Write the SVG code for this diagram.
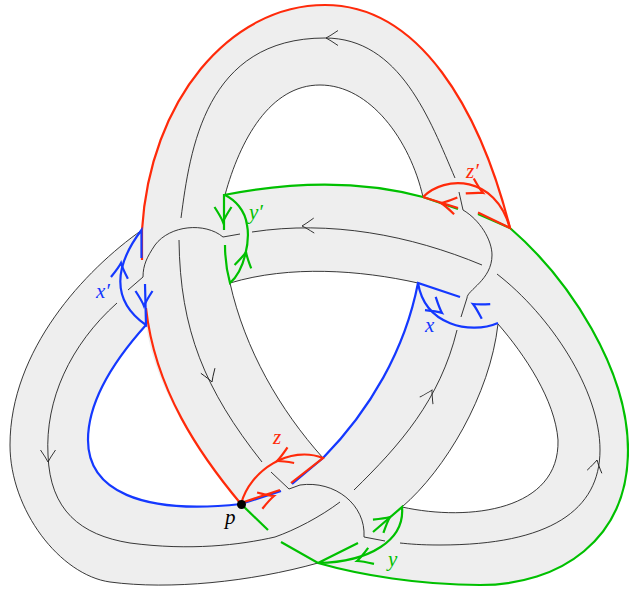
<svg xmlns="http://www.w3.org/2000/svg" width="629" height="592" viewBox="0 0 629 592">
<style>
.k{fill:none;stroke:#222;stroke-width:.9}
.r,.b,.g{fill:none;stroke-width:2.2}
.r{stroke:#ff2a0a}.b{stroke:#1438ff}.g{stroke:#00c000}
.t{font-family:"Liberation Serif",serif;font-style:italic;font-size:21px}
</style>
<defs>
<path id="h" d="M-12,-7.500Q-4,-2 0,0Q-4,2 -12,7.500"/>
<path id="c" d="M-15,-8.500Q-5,-2 0,0Q-5,2 -15,8.500"/>
</defs>
<path id="band" fill="#eeeeee" fill-rule="evenodd" d="M142,230C150,100 230,5 325,5C420,5 480,110 510,228C570,280 628,370 628,450C628,540 560,585 480,585C420,585 360,575 318,563C250,582 170,590 110,582C60,575 10,510 10,445C10,350 85,270 142,230Z
M225,195C240,140 270,85 320,85C370,85 410,140 423,197C360,180 290,182 225,195Z
M230,283C290,265 360,270 418,283C405,350 370,410 323,458C280,410 245,350 230,283Z
M498,324C490,395 445,470 402,507C470,522 560,510 558,440C555,400 525,355 498,324Z
M146,325C110,365 88,405 88,440C88,490 140,515 241,504C200,455 155,390 146,325Z"/>
<g id="midlines" class="k">
<path d="M181,218C190,150 205,38 325,38C400,38 430,120 455,178"/>
<path d="M459,192L463,210C480,220 492,240 492,255C492,280 467,290 467,298L461,317"/>
<path d="M457,330C440,400 400,445 354,490"/>
<path d="M252,232C330,220 410,235 482,265"/>
<path d="M497,274C550,315 600,390 600,450C600,510 550,545 440,545C420,545 410,544 400,543"/>
<path d="M385,541L364,537C366,505 335,480 300,485L289,489L271,472"/>
<path d="M262,462C205,390 180,330 179,240"/>
<path d="M240,234L223,237C205,222 170,225 155,245C147,257 143,265 143,277L128,290"/>
<path d="M117,303C70,345 45,400 48,455C50,510 80,535 130,543C190,551 240,545 275,537C295,530 320,517 340,502"/>
<path d="M318,563C250,582 170,590 110,582C60,575 10,510 10,445C10,350 85,270 142,230"/>
<path d="M225,195C240,140 270,85 320,85C370,85 410,140 423,197"/>
<path d="M230,283C290,265 360,270 418,283"/>
<path d="M323,458C280,410 245,350 230,283"/>
<path d="M498,324C490,395 445,470 402,507C470,522 560,510 558,440C555,400 525,355 498,324"/>
<use href="#h" transform="translate(326,38) rotate(180)"/>
<use href="#h" transform="translate(302,226) rotate(178)"/>
<use href="#h" transform="translate(212,382) rotate(70)"/>
<use href="#h" transform="translate(48,462) rotate(90)"/>
<use href="#h" transform="translate(432,390) rotate(-62)"/>
<use href="#h" transform="translate(597,460) rotate(-78)"/>
</g>
<g id="green" class="g">
<path d="M224,230V195C290,182 360,180 423,197L458,209"/>
<path d="M478,214L510,228C570,280 628,370 628,450C628,540 560,585 480,585C420,585 360,575 318,563L281,542"/>
<path d="M268,530L241,504"/>
<path d="M225,245C225,260 227,272 230,283C245,270 250,240 247,225C245,210 235,200 225,195"/>
<path d="M318,563L358,543M318,563C370,562 405,540 402,507L373,532"/>
<use href="#c" transform="translate(223,222) rotate(90)"/>
<use href="#c" transform="translate(246,252) rotate(-78)"/>
<use href="#c" transform="translate(390,517) rotate(-38)"/>
<use href="#c" transform="translate(357,561) rotate(160)"/>
</g>
<g id="blue" class="b">
<path d="M146,325C110,365 88,405 88,440C88,490 140,515 241,504L281,491"/>
<path d="M292,484L323,458C370,410 405,350 418,283L460,297"/>
<path d="M418,283C425,325 470,335 498,323"/>
<use href="#c" transform="translate(442,313) rotate(39)"/>
<use href="#c" transform="translate(473,304) rotate(-150)"/>
</g>
<g id="red" class="r">
<path d="M241,504C200,455 155,390 146,308"/>
<path d="M142,260V230C150,100 230,5 325,5C420,5 480,110 510,228"/>
<path d="M423,197C445,175 495,175 510,228L478,212.500M423,197L458,208"/>
<path d="M241,504C250,470 290,445 323,458L291,483M241,503L280,490"/>
<use href="#c" transform="translate(483,193) rotate(28)"/>
<use href="#c" transform="translate(441,203) rotate(191)"/>
<use href="#c" transform="translate(277,461) rotate(157)"/>
<use href="#c" transform="translate(274,496) rotate(-18)"/>
</g>
<g id="blue-left" class="b">
<path d="M141.500,258V230C115,265 110,300 146,325L145,284"/>
<use href="#c" transform="translate(121,263) rotate(-84)"/>
<use href="#c" transform="translate(144,306) rotate(90)"/>
</g>
<g id="labels">
<text class="t" x="249" y="219" fill="#00c000">y′</text>
<text class="t" x="466" y="178" fill="#ff2a0a">z′</text>
<text class="t" x="96" y="298" fill="#1438ff">x′</text>
<text class="t" x="425" y="332" fill="#1438ff">x</text>
<text class="t" x="273" y="444" fill="#ff2a0a">z</text>
<text class="t" x="388" y="566" fill="#00c000">y</text>
<text class="t" x="225" y="524" fill="#000">p</text>
</g>
<circle id="p" cx="241.500" cy="504.500" r="4.500" fill="#000"/>
</svg>
